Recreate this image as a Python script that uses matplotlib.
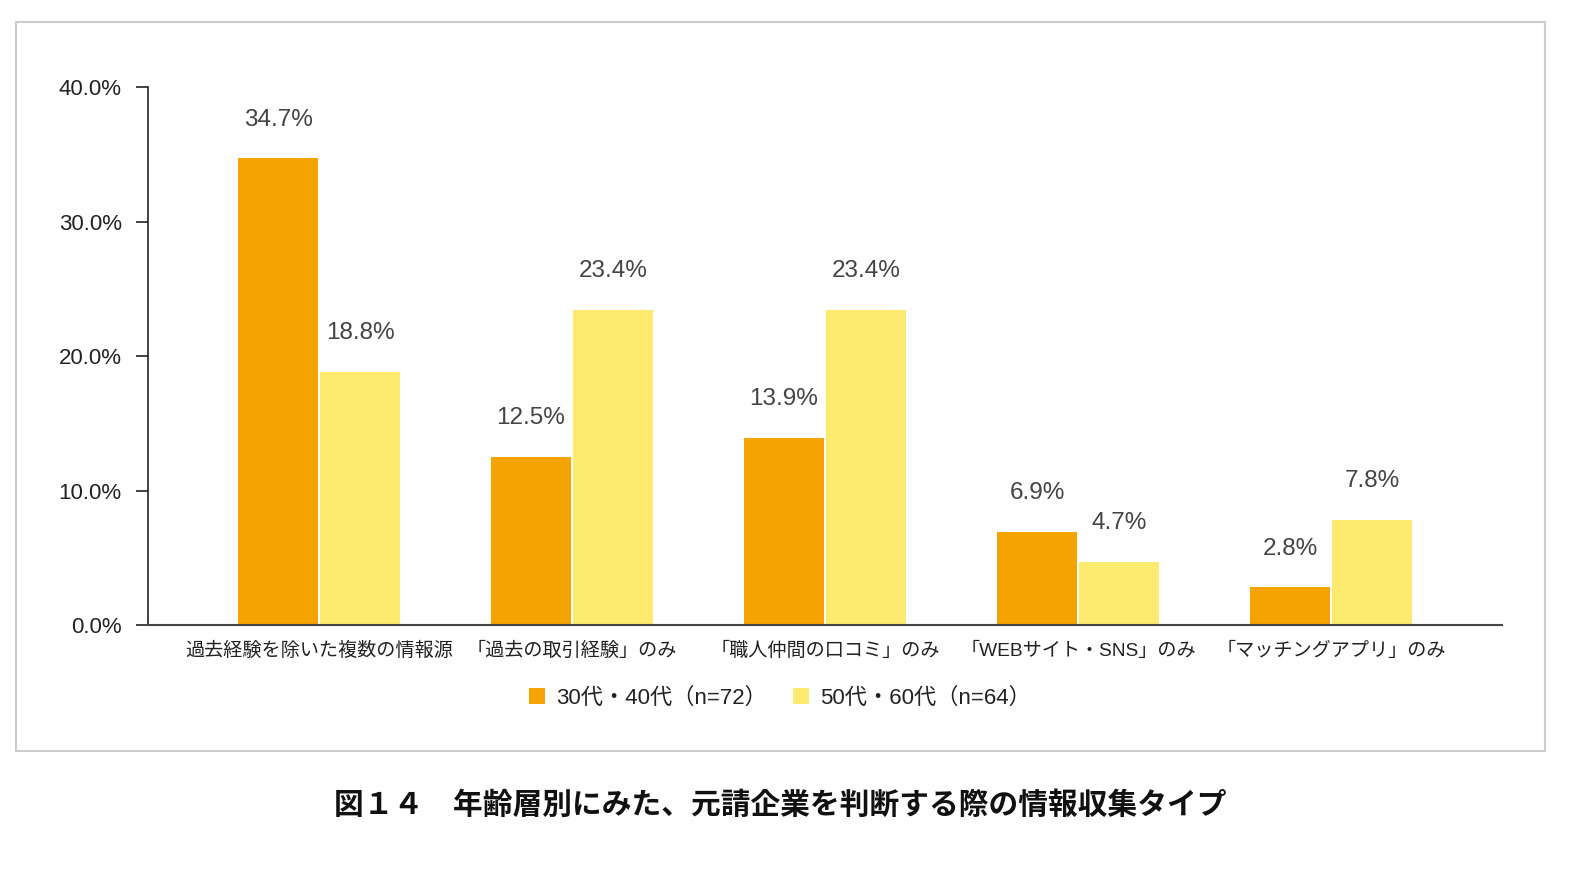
import matplotlib
matplotlib.use("Agg")
import matplotlib.pyplot as plt
import numpy as np
from matplotlib.patches import Rectangle, Patch

plt.rcParams['font.family'] = ['Liberation Sans', 'Noto Sans CJK JP', 'DejaVu Sans']

categories = ["過去経験を除いた複数の情報源", "「過去の取引経験」のみ", "「職人仲間の口コミ」のみ",
              "「WEBサイト・SNS」のみ", "「マッチングアプリ」のみ"]
series_names = ["30代・40代（n=72）", "50代・60代（n=64）"]
values_3040 = [34.7, 12.5, 13.9, 6.9, 2.8]
values_5060 = [18.8, 23.4, 23.4, 4.7, 7.8]
yticks = [0, 10, 20, 30, 40]
title = "図１４　年齢層別にみた、元請企業を判断する際の情報収集タイプ"

colors = ["#F4A300", "#FFEA70"]

fig = plt.figure(figsize=(15.95, 8.77), dpi=100)
fig.patches.append(Rectangle((16/1595, 1-751/877), (1545-16)/1595, (751-22)/877,
                             transform=fig.transFigure, fill=False, edgecolor="#cccccc",
                             linewidth=1.5, zorder=0))
ax = fig.add_axes([148/1595, 1-625/877, (1502-148)/1595, (625-87)/877])

x = np.arange(len(categories))
w = 0.316
gap = 0.004
b1 = ax.bar(x - w/2 - gap, values_3040, width=w, color=colors[0], label=series_names[0])
b2 = ax.bar(x + w/2 + gap, values_5060, width=w, color=colors[1], label=series_names[1])

for bars, vals in ((b1, values_3040), (b2, values_5060)):
    for r, v in zip(bars, vals):
        ax.annotate(f"{v:.1f}%", (r.get_x() + r.get_width()/2, v), xytext=(0, 20),
                    textcoords="offset points", ha="center", va="bottom",
                    fontsize=17.5, color="#444444")

ax.set_xlim(-0.676, 4.676)
ax.set_ylim(0, 40)
ax.set_yticks(yticks)
ax.set_yticklabels([f"{t:.1f}%" for t in yticks], fontsize=16, color="#222222")
ax.set_xticks(x)
ax.set_xticklabels(categories, fontsize=13.8, color="#222222")
ax.tick_params(axis='x', length=0, pad=12)
ax.tick_params(axis='y', length=9, width=1.2, pad=10, color="#222222")
for s in ['top', 'right']:
    ax.spines[s].set_visible(False)
ax.spines['left'].set_color("#222222")
ax.spines['left'].set_linewidth(1.2)
ax.spines['bottom'].set_color("#444444")
ax.spines['bottom'].set_linewidth(1.5)

handles = [Patch(facecolor=colors[0]), Patch(facecolor=colors[1])]
fig.legend(handles, series_names, loc="center", bbox_to_anchor=(0.489, 1-698/877),
           ncol=2, frameon=False, fontsize=16, handlelength=0.7, handleheight=0.7,
           handletextpad=0.5, columnspacing=1.2, labelcolor="#222222")

fig.text(0.489, 1-805/877, title, ha="center", va="center", fontsize=21.4, fontweight="bold",
         family=['Noto Sans CJK JP', 'DejaVu Sans'], color="#111111")

fig.savefig("out.png", dpi=100, facecolor="white")
